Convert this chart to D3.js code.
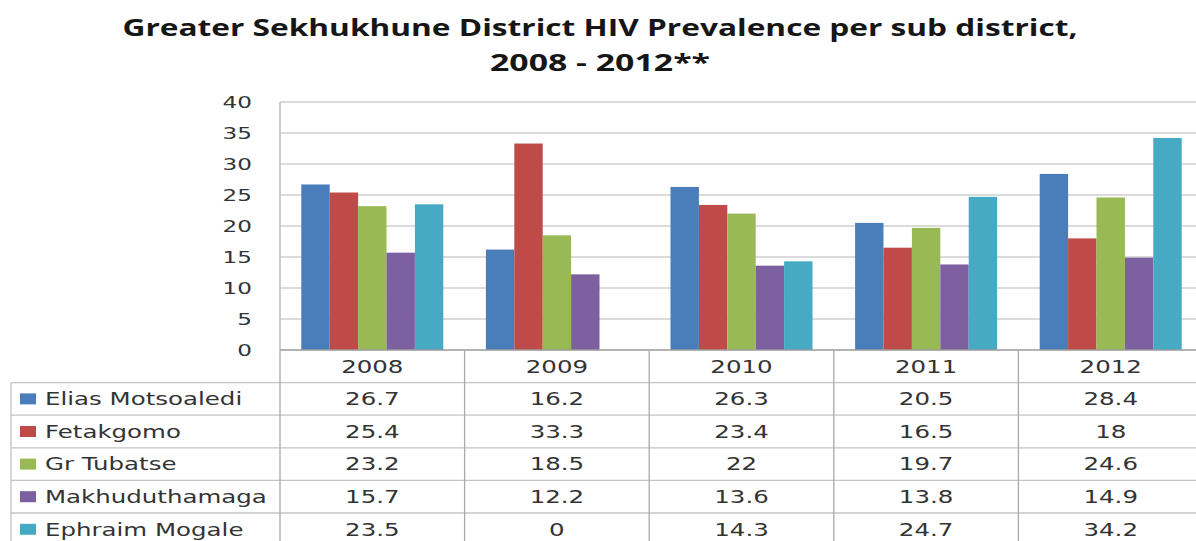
<!DOCTYPE html>
<html>
<head>
<meta charset="utf-8">
<script src="https://cdn.jsdelivr.net/npm/d3@7.9.0/dist/d3.min.js"></script>
<style>
  body { margin: 0; background: #fff; }
  svg { display: block; }
</style>
</head>
<body>
<svg width="1196" height="541"></svg>
<script>
// data
const years = ['2008', '2009', '2010', '2011', '2012'];
const districts = ['Elias Motsoaledi', 'Fetakgomo', 'Gr Tubatse', 'Makhuduthamaga', 'Ephraim Mogale'];
const eliasMotsoaledi = [26.7, 16.2, 26.3, 20.5, 28.4];
const fetakgomo = [25.4, 33.3, 23.4, 16.5, 18];
const grTubatse = [23.2, 18.5, 22, 19.7, 24.6];
const makhuduthamaga = [15.7, 12.2, 13.6, 13.8, 14.9];
const ephraimMogale = [23.5, 0, 14.3, 24.7, 34.2];
const yTicks = [0, 5, 10, 15, 20, 25, 30, 35, 40];

const series = [eliasMotsoaledi, fetakgomo, grTubatse, makhuduthamaga, ephraimMogale];
const colors = ['#4a7ebb', '#be4b48', '#98b954', '#7d60a0', '#46aac5'];

const svg = d3.select('svg');
const plotLeft = 280, plotRight = 1203, plotTop = 102, plotBottom = 350;
const rowH = 32.6;
const stretch = 'scale(1.4,1)'; // the picture is stretched sideways
const font = '"DejaVu Sans", Verdana, sans-serif';
const textCol = '#333';

let x = d3.scaleBand().domain(years).range([plotLeft, plotRight]);
let xs = d3.scaleBand().domain(d3.range(series.length)).range([0, x.bandwidth()]).paddingOuter(0.75);
let y = d3.scaleLinear().domain([0, 40]).range([plotBottom, plotTop]);

// title
const title = svg.append('g').attr('font-family', '"Open Sans", "Liberation Sans", sans-serif')
  .attr('font-weight', 'bold').attr('fill', '#161616').attr('text-anchor', 'middle');
title.append('text').attr('x', 600).attr('y', 36).attr('font-size', 23.5)
  .attr('textLength', 955).attr('lengthAdjust', 'spacingAndGlyphs')
  .text('Greater Sekhukhune District HIV Prevalence per sub district,');
title.append('text').attr('x', 600).attr('y', 71).attr('font-size', 23.5)
  .attr('textLength', 220).attr('lengthAdjust', 'spacingAndGlyphs')
  .text('2008 - 2012**');

// gridlines
svg.append('g').selectAll('line').data(yTicks.filter(d => d > 0)).join('line')
  .attr('x1', plotLeft).attr('x2', plotRight)
  .attr('y1', d => y(d)).attr('y2', d => y(d))
  .attr('stroke', '#cfcfcf').attr('stroke-width', 1.6);

// plot border (left side)
svg.append('line').attr('x1', plotLeft).attr('x2', plotLeft).attr('y1', plotTop).attr('y2', plotBottom)
  .attr('stroke', '#bdbdbd').attr('stroke-width', 1.5);

// bars
series.forEach((vals, si) => {
  svg.append('g').selectAll('rect').data(vals).join('rect')
    .attr('x', (d, i) => x(years[i]) + xs(si))
    .attr('width', xs.bandwidth())
    .attr('y', d => y(d))
    .attr('height', d => y(0) - y(d))
    .attr('fill', colors[si]);
});

// y axis labels
const yAxis = svg.append('g').attr('transform', `translate(252,0)`)
  .call(d3.axisLeft(y).tickValues(yTicks).tickSize(0).tickPadding(0));
yAxis.select('.domain').remove();
yAxis.selectAll('text').attr('x', 0).attr('dy', '0.35em')
  .attr('transform', stretch)
  .attr('font-family', font).attr('font-size', 16.5).attr('fill', textCol);

// data table
const table = svg.append('g');
const lineCol = '#a9a9a9';
const tBottom = plotBottom + rowH * (districts.length + 1);

// horizontal rules
table.selectAll('line.h').data(d3.range(districts.length + 1)).join('line')
  .attr('class', 'h')
  .attr('x1', d => d === 0 ? plotLeft : 11).attr('x2', plotRight)
  .attr('y1', d => plotBottom + rowH * d).attr('y2', d => plotBottom + rowH * d)
  .attr('stroke', d => d === 0 ? '#9a9a9a' : '#c4c4c4').attr('stroke-width', 1.3);

// vertical rules
table.selectAll('line.v').data(years).join('line')
  .attr('class', 'v')
  .attr('x1', d => x(d)).attr('x2', d => x(d))
  .attr('y1', plotBottom).attr('y2', tBottom)
  .attr('stroke', lineCol).attr('stroke-width', 1.3);
table.append('line').attr('x1', 11).attr('x2', 11)
  .attr('y1', plotBottom + rowH).attr('y2', tBottom)
  .attr('stroke', '#c4c4c4').attr('stroke-width', 1.3);

// header years
table.selectAll('text.yr').data(years).join('text')
  .attr('class', 'yr')
  .attr('transform', d => `translate(${x(d) + x.bandwidth() / 2},${plotBottom + rowH / 2}) ${stretch}`)
  .attr('text-anchor', 'middle').attr('dy', '0.36em')
  .attr('font-family', font).attr('font-size', 17.5).attr('fill', textCol)
  .text(d => d);

// rows
districts.forEach((name, si) => {
  const cy = plotBottom + rowH * (si + 1.5);
  table.append('rect').attr('x', 20).attr('y', cy - 5.5).attr('width', 16).attr('height', 11)
    .attr('fill', colors[si]);
  table.append('text').attr('transform', `translate(45,${cy}) ${stretch}`)
    .attr('dy', '0.36em').attr('font-family', font).attr('font-size', 17.5).attr('fill', textCol)
    .text(name);
  table.append('g').selectAll('text').data(series[si]).join('text')
    .attr('transform', (d, i) => `translate(${x(years[i]) + x.bandwidth() / 2},${cy}) ${stretch}`)
    .attr('text-anchor', 'middle').attr('dy', '0.36em')
    .attr('font-family', font).attr('font-size', 17.5).attr('fill', textCol)
    .text(d => d);
});
</script>
</body>
</html>
